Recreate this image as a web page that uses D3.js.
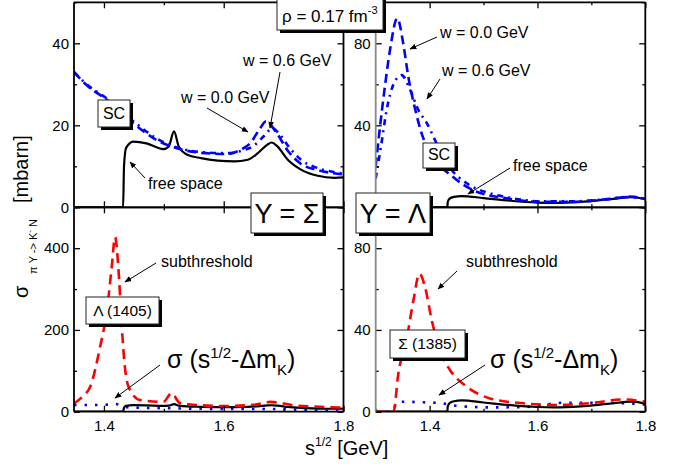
<!DOCTYPE html>
<html>
<head>
<meta charset="utf-8">
<script src="https://cdn.jsdelivr.net/npm/d3@7"></script>
<style>
body { margin: 0; background: #fff; }
text { font-family: "Liberation Sans", Arial, sans-serif; }
</style>
</head>
<body>
<div id="chart"></div>
<script>
// ---- data (sqrt(s) in GeV, sigma in mbarn) ----

// Y = Sigma, free space
var sigFreeX = [1.35, 1.432, 1.4335, 1.437, 1.449, 1.471, 1.499, 1.508, 1.517, 1.525, 1.539, 1.562, 1.590, 1.618, 1.640, 1.657, 1.673, 1.680, 1.690, 1.707, 1.729, 1.757, 1.785, 1.80];
var sigFreeY = [0, 0, 10, 14.5, 16.0, 15.6, 14.2, 14.8, 18.5, 14.8, 12.8, 12.0, 11.4, 11.2, 11.6, 13.2, 15.3, 15.8, 14.8, 11.6, 9.2, 7.7, 7.2, 7.3];
// Y = Sigma, SC with w = 0.0 GeV
var sigW0X = [1.35, 1.371, 1.405, 1.449, 1.488, 1.522, 1.561, 1.605, 1.628, 1.644, 1.661, 1.670, 1.689, 1.706, 1.728, 1.756, 1.784, 1.80];
var sigW0Y = [33, 29.8, 26.2, 20.5, 16.4, 14.4, 13.3, 13.0, 14.0, 15.6, 19.3, 20.9, 18.0, 14.0, 10.7, 9.1, 8.3, 8.0];
// Y = Sigma, SC with w = 0.6 GeV
var sigW6X = [1.35, 1.371, 1.405, 1.449, 1.488, 1.522, 1.561, 1.605, 1.630, 1.650, 1.668, 1.681, 1.695, 1.710, 1.730, 1.756, 1.784, 1.80];
var sigW6Y = [33, 30, 26.5, 21, 16.8, 14.6, 13.5, 13.2, 13.8, 15.0, 17.5, 19.3, 17.5, 14.5, 11.5, 9.6, 8.6, 8.2];
// Y = Sigma, subthreshold
var sigSubX = [1.35, 1.365, 1.377, 1.3935, 1.405, 1.413, 1.4186, 1.424, 1.428, 1.4325, 1.441, 1.4604, 1.499, 1.513, 1.527, 1.56, 1.60, 1.65, 1.678, 1.72, 1.76, 1.80];
var sigSubY = [20, 38, 61, 158, 248, 354, 427, 354, 256, 150, 61, 28.5, 24, 45, 21, 16, 14, 17, 24, 15, 12, 10];
// Y = Sigma, sigma(sqrt(s) - dm_K)
var sigShiftX = [1.35, 1.38, 1.41, 1.4197, 1.4325, 1.439, 1.517, 1.60, 1.684, 1.768, 1.80];
var sigShiftY = [16.3, 16.3, 17.5, 18.8, 12, 10.7, 8.3, 6.6, 6.6, 2.5, 2.5];

// Y = Lambda, free space
var lamFreeX = [1.30, 1.433, 1.4335, 1.437, 1.445, 1.4596, 1.50, 1.55, 1.599, 1.63, 1.68, 1.73, 1.777, 1.80];
var lamFreeY = [0, 0, 2.5, 4.2, 5.1, 5.5, 4.5, 3.2, 2.3, 2.1, 2.6, 3.8, 4.9, 3.9];
// Y = Lambda, SC with w = 0.0 GeV
var lamW0X = [1.30, 1.308, 1.317, 1.3265, 1.340, 1.351, 1.3605, 1.373, 1.385, 1.406, 1.443, 1.48, 1.543, 1.605, 1.666, 1.728, 1.772, 1.80];
var lamW0Y = [20, 39.3, 58.8, 76.7, 92.2, 80, 63.7, 48.1, 36.2, 24.7, 14.9, 8.4, 4.4, 2.7, 2.7, 3.9, 5.2, 4.0];
// Y = Lambda, SC with w = 0.6 GeV
var lamW6X = [1.30, 1.31, 1.32, 1.333, 1.348, 1.364, 1.379, 1.395, 1.41, 1.438, 1.469, 1.512, 1.55, 1.605, 1.666, 1.728, 1.772, 1.80];
var lamW6Y = [14, 30, 47, 60, 64.5, 57.2, 47.5, 41, 32.8, 19.2, 11.7, 6.8, 4.6, 2.9, 2.9, 4.0, 5.0, 4.2];
// Y = Lambda, subthreshold
var lamSubX = [1.30, 1.333, 1.342, 1.357, 1.37, 1.381, 1.3915, 1.404, 1.419, 1.438, 1.469, 1.512, 1.574, 1.636, 1.698, 1.759, 1.80];
var lamSubY = [0, 0, 18.7, 35, 54.5, 67.5, 61, 44.7, 30, 20.3, 12.2, 6.5, 4.1, 3.3, 4.2, 6.0, 4.9];
// Y = Lambda, sigma(sqrt(s) - dm_K)
var lamShiftX = [1.30, 1.33, 1.34, 1.354, 1.379, 1.4225, 1.44, 1.453, 1.515, 1.577, 1.651, 1.695, 1.763, 1.80];
var lamShiftY = [0, 0, 4.5, 4.9, 4.7, 4.1, 3.3, 2.8, 2.1, 2.3, 4.4, 4.4, 4.1, 3.5];

// ticks
var xMajor = [1.4, 1.6, 1.8];
var xMinor = [1.3, 1.5, 1.7];

var svg = d3.select("#chart").append("svg")
	.attr("width", 677)
	.attr("height", 464);

// line styles
var styles = {
	free: {stroke: "#000", width: 2.2, dash: null},
	w0: {stroke: "#0000ff", width: 2.6, dash: "9,5"},
	w6: {stroke: "#0000ff", width: 2.6, dash: "6,5,2,5"},
	sub: {stroke: "#ff0000", width: 2.6, dash: "10,6"},
	shift: {stroke: "#0000ff", width: 2.6, dash: "2.5,8"}
};

// panel layout (top-right "0" label sits under the Y = Lambda box, so it is not drawn)
var panels = [
	{id: "tl", x0: 74, x1: 343.5, y0: 2.3, y1: 207.3, xd: [1.35, 1.8], yd: [0, 50], yMajor: [0, 20, 40], yLabels: [0, 20, 40], yMinor: [10, 30, 50], xLabels: false, leftColor: "#000",
		curves: [[sigFreeX, sigFreeY, "free"], [sigW6X, sigW6Y, "w6"], [sigW0X, sigW0Y, "w0"]]},
	{id: "tr", x0: 375.7, x1: 645.3, y0: 2.3, y1: 207.3, xd: [1.3, 1.8], yd: [0, 100], yMajor: [0, 40, 80], yLabels: [40, 80], yMinor: [20, 60, 100], xLabels: false, leftColor: "#888",
		curves: [[lamFreeX, lamFreeY, "free"], [lamW6X, lamW6Y, "w6"], [lamW0X, lamW0Y, "w0"]]},
	{id: "bl", x0: 74, x1: 343.5, y0: 207.3, y1: 411.7, xd: [1.35, 1.8], yd: [0, 500], yMajor: [0, 200, 400], yLabels: [0, 200, 400], yMinor: [100, 300, 500], xLabels: true, leftColor: "#000",
		curves: [[sigShiftX, sigShiftY, "shift"], [sigFreeX, sigFreeY, "free"], [sigSubX, sigSubY, "sub"]]},
	{id: "br", x0: 375.7, x1: 645.3, y0: 207.3, y1: 411.7, xd: [1.3, 1.8], yd: [0, 100], yMajor: [0, 40, 80], yLabels: [0, 40, 80], yMinor: [20, 60, 100], xLabels: true, leftColor: "#888",
		curves: [[lamShiftX, lamShiftY, "shift"], [lamFreeX, lamFreeY, "free"], [lamSubX, lamSubY, "sub"]]}
];

var defs = svg.append("defs");
defs.append("marker")
	.attr("id", "arrow")
	.attr("viewBox", "0 0 10 10")
	.attr("refX", 9).attr("refY", 5)
	.attr("markerWidth", 7).attr("markerHeight", 7)
	.attr("markerUnits", "userSpaceOnUse")
	.attr("orient", "auto")
	.append("path").attr("d", "M0,1 L10,5 L0,9 Z").attr("fill", "#000");

function styleAxis(g, size) {
	g.select(".domain").remove();
	g.selectAll("line").attr("stroke", "#000").attr("stroke-width", 1.3);
	g.attr("font-size", size).attr("font-family", "Liberation Sans, Arial, sans-serif");
	g.selectAll("text").attr("fill", "#000");
}

panels.forEach(function (p) {
	var x = d3.scaleLinear().domain(p.xd).range([p.x0, p.x1]);
	var y = d3.scaleLinear().domain(p.yd).range([p.y1, p.y0]);
	var xMaj = xMajor.filter(d => d >= p.xd[0] && d <= p.xd[1]);
	var xMin = xMinor.filter(d => d >= p.xd[0] && d <= p.xd[1]);

	defs.append("clipPath").attr("id", "clip-" + p.id)
		.append("rect")
		.attr("x", p.x0).attr("y", p.y0)
		.attr("width", p.x1 - p.x0).attr("height", p.y1 - p.y0);

	var g = svg.append("g");

	// curves
	var line = d3.line().curve(d3.curveMonotoneX);
	var cg = g.append("g").attr("clip-path", "url(#clip-" + p.id + ")");
	p.curves.forEach(function (c) {
		var s = styles[c[2]];
		var pts = c[0].map((v, i) => [x(v), y(c[1][i])]);
		cg.append("path")
			.attr("d", line(pts))
			.attr("fill", "none")
			.attr("stroke", s.stroke)
			.attr("stroke-width", s.width)
			.attr("stroke-dasharray", s.dash);
	});

	// left axis, major + minor
	g.append("g").attr("transform", `translate(${p.x0},0)`)
		.call(d3.axisLeft(y).tickValues(p.yMajor).tickSize(-6).tickPadding(5)
			.tickFormat(d => p.yLabels.indexOf(d) >= 0 ? d3.format("d")(d) : ""))
		.call(a => styleAxis(a, 15));
	g.append("g").attr("transform", `translate(${p.x0},0)`)
		.call(d3.axisLeft(y).tickValues(p.yMinor).tickSize(-3).tickFormat(""))
		.call(a => styleAxis(a, 15));
	// right axis
	g.append("g").attr("transform", `translate(${p.x1},0)`)
		.call(d3.axisRight(y).tickValues(p.yMajor).tickSize(-6).tickFormat(""))
		.call(a => styleAxis(a, 15));
	g.append("g").attr("transform", `translate(${p.x1},0)`)
		.call(d3.axisRight(y).tickValues(p.yMinor).tickSize(-3).tickFormat(""))
		.call(a => styleAxis(a, 15));
	// top axis
	g.append("g").attr("transform", `translate(0,${p.y0})`)
		.call(d3.axisTop(x).tickValues(xMaj).tickSize(-6).tickFormat(""))
		.call(a => styleAxis(a, 15));
	g.append("g").attr("transform", `translate(0,${p.y0})`)
		.call(d3.axisTop(x).tickValues(xMin).tickSize(-3).tickFormat(""))
		.call(a => styleAxis(a, 15));
	// bottom axis
	g.append("g").attr("transform", `translate(0,${p.y1})`)
		.call(d3.axisBottom(x).tickValues(xMaj).tickSize(-6).tickPadding(9).tickFormat(p.xLabels ? d3.format(".1f") : ""))
		.call(a => styleAxis(a, 15));
	g.append("g").attr("transform", `translate(0,${p.y1})`)
		.call(d3.axisBottom(x).tickValues(xMin).tickSize(-3).tickFormat(""))
		.call(a => styleAxis(a, 15));

	// frame
	g.append("line").attr("x1", p.x0).attr("x2", p.x1).attr("y1", p.y0).attr("y2", p.y0).attr("stroke", "#000").attr("stroke-width", 1.8);
	g.append("line").attr("x1", p.x0).attr("x2", p.x1).attr("y1", p.y1).attr("y2", p.y1).attr("stroke", "#000").attr("stroke-width", 1.8);
	g.append("line").attr("x1", p.x1).attr("x2", p.x1).attr("y1", p.y0).attr("y2", p.y1).attr("stroke", "#000").attr("stroke-width", 1.8);
	g.append("line").attr("x1", p.x0).attr("x2", p.x0).attr("y1", p.y0).attr("y2", p.y1).attr("stroke", p.leftColor).attr("stroke-width", 1.8);
});

// ---- annotations ----
var ann = svg.append("g");

function arrow(x1, y1, x2, y2) {
	ann.append("line")
		.attr("x1", x1).attr("y1", y1).attr("x2", x2).attr("y2", y2)
		.attr("stroke", "#000").attr("stroke-width", 1)
		.attr("marker-end", "url(#arrow)");
}

function label(x, y, txt, size) {
	return ann.append("text").attr("x", x).attr("y", y).attr("font-size", size || 16).text(txt);
}

function box(x, y, w, h) {
	ann.append("rect").attr("x", x + 3).attr("y", y + 3).attr("width", w).attr("height", h).attr("fill", "#000");
	ann.append("rect").attr("x", x).attr("y", y).attr("width", w).attr("height", h)
		.attr("fill", "#fff").attr("stroke", "#222").attr("stroke-width", 1);
}

// top left
label(243, 66, "w = 0.6 GeV");
arrow(280, 72, 270, 128);
label(181, 103, "w = 0.0 GeV");
arrow(207, 108, 248, 132);
label(148, 189, "free space");
arrow(145, 178, 130, 162);
box(98, 100, 32, 27);
label(114, 118.5, "SC").attr("text-anchor", "middle");

// top right
label(440, 38, "w = 0.0 GeV");
arrow(437, 37, 410, 49);
label(442, 76, "w = 0.6 GeV");
arrow(440, 79, 427, 99);
label(513, 171, "free space");
arrow(510, 168, 468, 194);
box(423, 143, 32, 25);
label(439, 160, "SC").attr("text-anchor", "middle");

// bottom left
label(161, 267, "subthreshold");
arrow(156, 263, 125, 282);
arrow(160, 365, 115, 398);
box(86, 297, 73, 27);
label(122.5, 316, "\u039B (1405)", 15.5).attr("text-anchor", "middle");

// bottom right
label(466, 267, "subthreshold");
arrow(457, 271, 438, 289);
arrow(485, 365, 439, 395);
box(390, 330, 75, 28);
label(427.5, 349, "\u03A3 (1385)", 15.5).attr("text-anchor", "middle");

// sigma(sqrt(s) - dm_K) labels
[167, 490].forEach(function (x0) {
	var t = ann.append("text").attr("x", x0).attr("y", 368).attr("font-size", 25);
	t.append("tspan").text("\u03C3 (s");
	t.append("tspan").attr("font-size", 15).attr("dy", -10).text("1/2");
	t.append("tspan").attr("dy", 10).text("-\u0394m");
	t.append("tspan").attr("font-size", 15).attr("dy", 7).text("K");
	t.append("tspan").attr("dy", -7).text(")");
});

// density box
box(277, -4, 106, 34);
var rho = ann.append("text").attr("x", 282).attr("y", 22).attr("font-size", 17);
rho.append("tspan").text("\u03C1 = 0.17 fm");
rho.append("tspan").attr("font-size", 11).attr("dy", -8).text("-3");

// Y = Sigma / Y = Lambda
box(251, 193, 72, 40);
label(287, 223, "Y = \u03A3", 27).attr("text-anchor", "middle");
box(356, 193, 74, 40);
label(393, 223, "Y = \u039B", 27).attr("text-anchor", "middle");

// ---- axis titles ----
var xt = svg.append("text").attr("x", 305).attr("y", 455).attr("font-size", 20);
xt.append("tspan").text("s");
xt.append("tspan").attr("font-size", 12).attr("dy", -9).text("1/2");
xt.append("tspan").attr("dy", 9).text(" [GeV]");

var yt = svg.append("text")
	.attr("transform", "translate(28,298) rotate(-90)")
	.attr("font-size", 20);
yt.append("tspan").attr("x", 0).attr("y", 0).text("\u03C3");
yt.append("tspan").attr("x", 24).attr("y", 9).attr("font-size", 11).text("\u03C0 Y -> K");
yt.append("tspan").attr("font-size", 8).attr("dy", -5).text("-");
yt.append("tspan").attr("font-size", 11).attr("dy", 5).text(" N");
yt.append("tspan").attr("x", 95).attr("y", 0).text("[mbarn]");
</script>
</body>
</html>
